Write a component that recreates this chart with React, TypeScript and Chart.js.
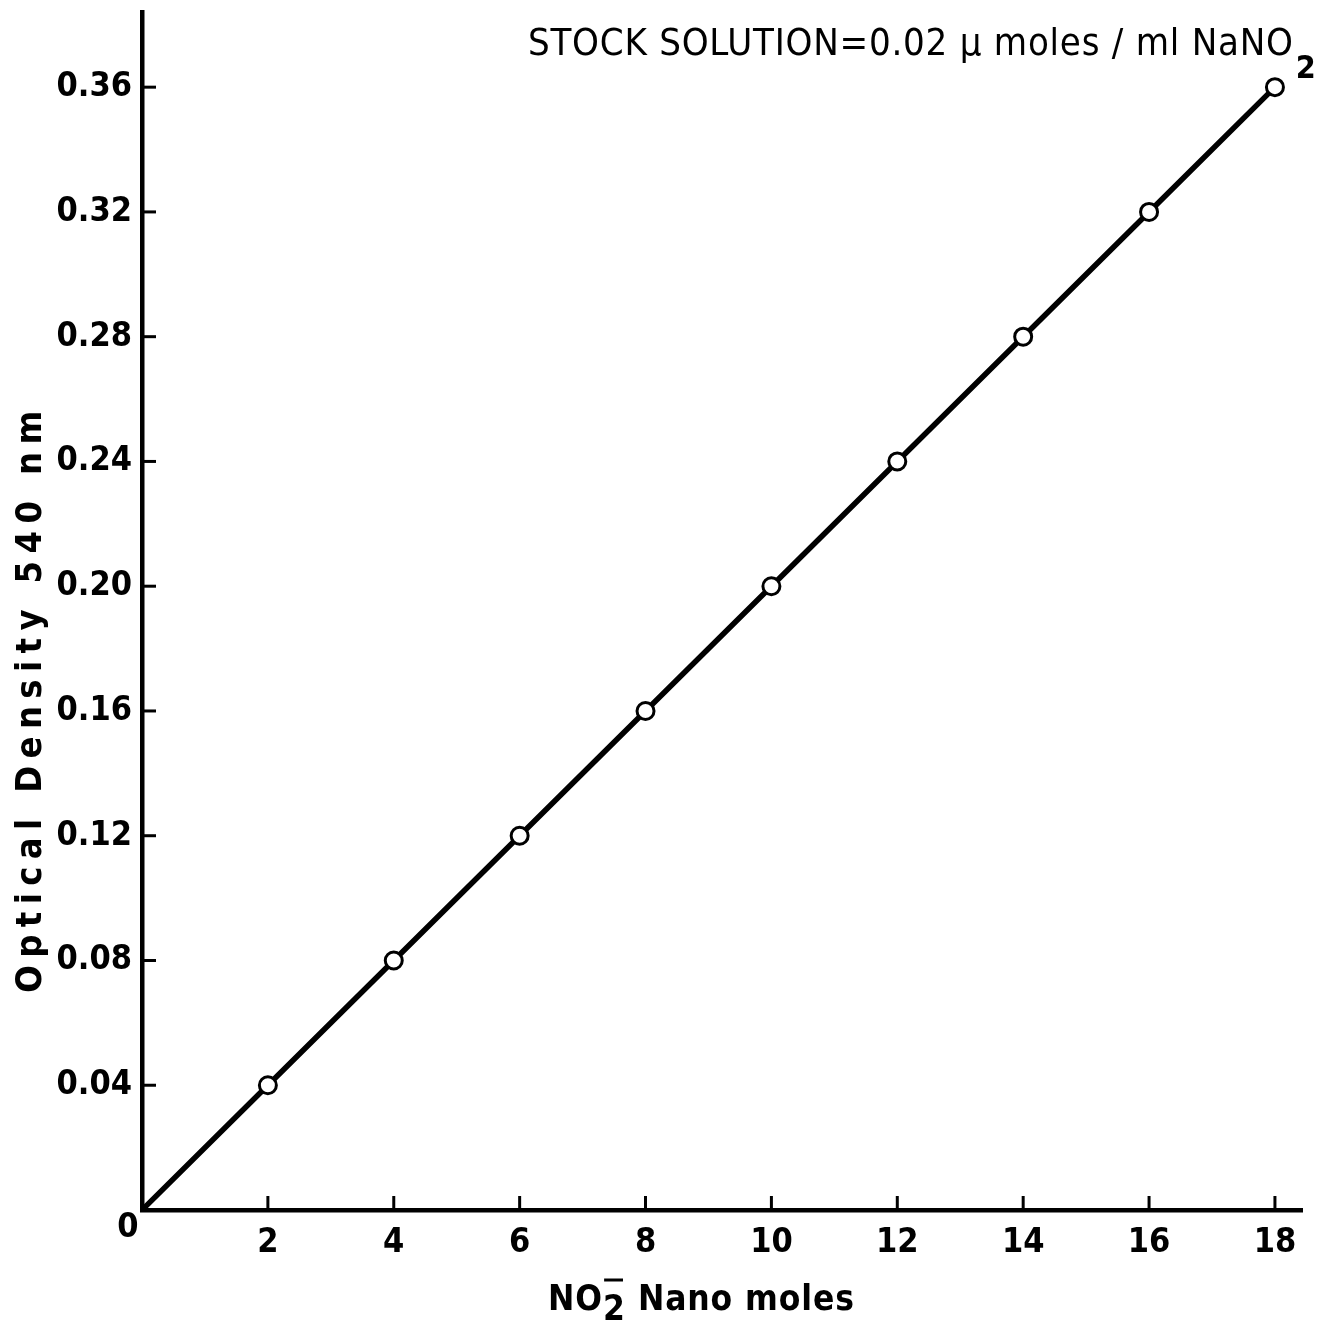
import React, { useEffect, useRef } from "react";
import { Chart, registerables } from "chart.js";

Chart.register(...registerables);

const nanoMoles = [0, 2, 4, 6, 8, 10, 12, 14, 16, 18];
const opticalDensity = [0, 0.04, 0.08, 0.12, 0.16, 0.2, 0.24, 0.28, 0.32, 0.36];
const xTicks = [2, 4, 6, 8, 10, 12, 14, 16, 18];
const yTicks = [0.04, 0.08, 0.12, 0.16, 0.2, 0.24, 0.28, 0.32, 0.36];
const yTickLabels = ["0.04", "0.08", "0.12", "0.16", "0.20", "0.24", "0.28", "0.32", "0.36"];
const titleText = "STOCK SOLUTION=0.02 \u03BC moles / ml NaNO";
const titleSub = "2";
const yTitle = "Optical Density 540 nm";
const xTitleMain = "NO";
const xTitleSub = "2";
const xTitleRest = " Nano moles";
const originLabel = "0";

const W = 1327;
const H = 1322;
const FONT = "'DejaVu Sans Condensed', 'DejaVu Sans', sans-serif";

function spacedText(
  ctx: CanvasRenderingContext2D,
  text: string,
  targetWidth: number
): number {
  (ctx as any).letterSpacing = "0px";
  const w = ctx.measureText(text).width;
  const n = Math.max(1, text.length - 1);
  const sp = (targetWidth - w) / n;
  (ctx as any).letterSpacing = sp + "px";
  return sp;
}

const decorPlugin = {
  id: "decor",
  afterDraw(chart: any) {
    const ctx: CanvasRenderingContext2D = chart.ctx;
    const xs = chart.scales.x;
    const ys = chart.scales.y;
    const area = chart.chartArea;
    ctx.save();
    ctx.strokeStyle = "#000";
    ctx.lineWidth = 3;
    // inward tick marks
    xTicks.forEach((v) => {
      const px = xs.getPixelForValue(v);
      ctx.beginPath();
      ctx.moveTo(px, area.bottom);
      ctx.lineTo(px, area.bottom - 14);
      ctx.stroke();
    });
    yTicks.forEach((v) => {
      const py = ys.getPixelForValue(v);
      ctx.beginPath();
      ctx.moveTo(area.left, py);
      ctx.lineTo(area.left + 14, py);
      ctx.stroke();
    });

    ctx.fillStyle = "#000";
    // origin label
    ctx.font = `bold 34px ${FONT}`;
    ctx.textAlign = "center";
    ctx.textBaseline = "middle";
    ctx.fillText(originLabel, xs.getPixelForValue(0) - 14, ys.getPixelForValue(0) + 18);

    // top-right annotation
    ctx.font = `38px ${FONT}`;
    ctx.textAlign = "left";
    ctx.textBaseline = "alphabetic";
    spacedText(ctx, titleText, 765);
    ctx.fillText(titleText, 528, 55);
    const tw = ctx.measureText(titleText).width;
    (ctx as any).letterSpacing = "0px";
    ctx.font = `bold 32px ${FONT}`;
    ctx.fillText(titleSub, 528 + tw + 2, 78);

    // x title
    ctx.font = `bold 35px ${FONT}`;
    (ctx as any).letterSpacing = "1px";
    let x = 548;
    const base = 1310;
    ctx.fillText(xTitleMain, x, base);
    x += ctx.measureText(xTitleMain).width;
    ctx.fillText(xTitleSub, x, base + 10);
    const sw = ctx.measureText(xTitleSub).width;
    ctx.lineWidth = 3;
    ctx.beginPath();
    ctx.moveTo(x + 1, base - 30);
    ctx.lineTo(x + sw - 3, base - 30);
    ctx.stroke();
    x += sw;
    const restW = ctx.measureText(xTitleRest).width;
    const targetRest = 855 - x;
    (ctx as any).letterSpacing = (1 + (targetRest - restW) / (xTitleRest.length - 1)) + "px";
    ctx.fillText(xTitleRest, x, base);

    // y title
    ctx.save();
    ctx.translate(32, 698);
    ctx.rotate(-Math.PI / 2);
    ctx.font = `bold 36px ${FONT}`;
    ctx.textAlign = "center";
    ctx.textBaseline = "middle";
    spacedText(ctx, yTitle, 582);
    ctx.fillText(yTitle, 0, 0);
    ctx.restore();

    ctx.restore();
  },
};

export default function App() {
  const ref = useRef<HTMLCanvasElement | null>(null);
  useEffect(() => {
    if (!ref.current) return;
    const chart = new Chart(ref.current, {
      type: "scatter",
      data: {
        datasets: [
          {
            data: nanoMoles.map((x, i) => ({ x, y: opticalDensity[i] })),
            showLine: true,
            borderColor: "#000",
            borderWidth: 5.5,
            pointRadius: nanoMoles.map((v) => (v === 0 ? 0 : 8.5)),
            pointBorderWidth: 3,
            pointBackgroundColor: "#fff",
            pointBorderColor: "#000",
          },
        ],
      },
      options: {
        responsive: false,
        animation: false,
        devicePixelRatio: 1,
        layout: { padding: { top: 12, right: 25, left: 0, bottom: 0 } },
        plugins: {
          legend: { display: false },
          tooltip: { enabled: false },
          title: { display: false },
        },
        scales: {
          x: {
            type: "linear",
            min: 0,
            max: 18.43,
            afterBuildTicks: (s: any) => {
              s.ticks = xTicks.map((v) => ({ value: v }));
            },
            afterFit: (s: any) => {
              s.height = 112;
              s.paddingLeft = 0;
              s.paddingRight = 0;
            },
            grid: { display: false, drawTicks: false },
            border: { display: true, color: "#000", width: 4.5 },
            ticks: {
              color: "#000",
              padding: 13,
              font: { family: FONT, size: 34, weight: "bold" },
              callback: (v: any) => String(v),
            },
          },
          y: {
            type: "linear",
            min: 0,
            max: 0.3841,
            afterBuildTicks: (s: any) => {
              s.ticks = yTicks.map((v) => ({ value: v }));
            },
            afterFit: (s: any) => {
              s.width = 142;
              s.paddingTop = 0;
              s.paddingBottom = 0;
            },
            grid: { display: false, drawTicks: false },
            border: { display: true, color: "#000", width: 4.5 },
            ticks: {
              color: "#000",
              padding: 10,
              font: { family: FONT, size: 34, weight: "bold" },
              callback: (v: any) => {
                const i = yTicks.findIndex((t) => Math.abs(t - v) < 1e-9);
                return i >= 0 ? yTickLabels[i] : "";
              },
            },
          },
        },
      } as any,
      plugins: [decorPlugin],
    });
    return () => chart.destroy();
  }, []);
  return (
    <div style={{ position: "absolute", left: 0, top: 0, width: W, height: H, background: "#fff" }}>
      <canvas ref={ref} width={W} height={H} style={{ width: W, height: H }} />
    </div>
  );
}
